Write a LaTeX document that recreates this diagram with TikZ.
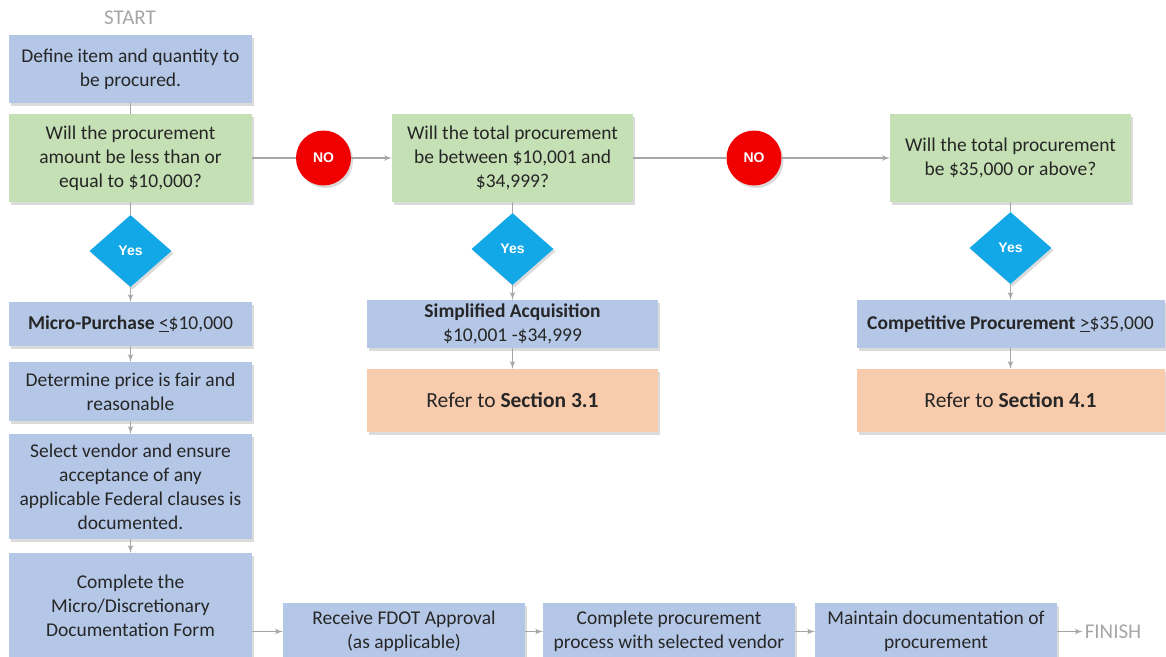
\documentclass[tikz,border=0pt]{standalone}
\usepackage{fontspec}
\setmainfont{Carlito}
\newfontfamily\badgefont{Liberation Sans}
\usetikzlibrary{shapes,arrows,shadows}
\definecolor{boxblue}{RGB}{180,199,231}
\definecolor{boxgreen}{RGB}{197,224,180}
\definecolor{boxorange}{RGB}{248,203,173}
\definecolor{yesblue}{RGB}{18,168,232}
\definecolor{nored}{RGB}{240,0,0}
\definecolor{linegray}{RGB}{166,166,166}
\definecolor{inkgray}{RGB}{38,38,38}
\tikzstyle{line} = [draw=linegray, line width=1.6pt]
\tikzstyle{arrowline} = [line, -latex']
\tikzstyle{softshadow} = [drop shadow={shadow xshift=2pt, shadow yshift=-2.5pt, fill=black!28}]
\tikzstyle{block} = [rectangle, fill=boxblue, text=inkgray, align=center, inner sep=2pt, font=\fontsize{19.5}{24}\selectfont, softshadow]
\tikzstyle{question} = [block, fill=boxgreen]
\tikzstyle{refer} = [block, fill=boxorange, font=\fontsize{21.5}{26}\selectfont]
\tikzstyle{decision} = [diamond, fill=yesblue, text=white, font=\badgefont\bfseries\fontsize{14}{16}\selectfont, minimum width=82pt, minimum height=72pt, inner sep=0pt, softshadow]
\tikzstyle{nobadge} = [circle, fill=nored, text=white, font=\badgefont\bfseries\fontsize{14}{16}\selectfont, minimum size=55pt, inner sep=0pt, softshadow]
\tikzstyle{terminal} = [text=linegray, inner sep=2pt, font=\fontsize{21}{24}\selectfont]

\begin{document}
\begin{tikzpicture}[x=1pt, y=-1pt, node distance=90pt, auto]
    \useasboundingbox (0,0) rectangle (1166,656);
    % left column: micro-purchase path
    \node[terminal] (start) at (130,18) {START};
    \node[block, minimum width=243pt, minimum height=68pt] (define) at (130.5,69) {Define item and quantity to\\be procured.};
    \node[question, below of=define, node distance=89pt, minimum width=243pt, minimum height=88pt] (amount) {Will the procurement\\amount be less than or\\equal to \$10,000?};
    \node[decision, below of=amount, node distance=93pt] (yesmicro) {Yes};
    \node[block, below of=yesmicro, node distance=73pt, minimum width=243pt, minimum height=44pt] (micro) {{\bfseries Micro-Purchase} \underline{<}\$10,000};
    \node[block, below of=micro, node distance=67.5pt, minimum width=243pt, minimum height=59pt] (price) {Determine price is fair and\\reasonable};
    \node[block, below of=price, node distance=95pt, minimum width=243pt, minimum height=105pt] (vendor) {Select vendor and ensure\\acceptance of any\\applicable Federal clauses is\\documented.};
    \node[block, below of=vendor, node distance=119.5pt, minimum width=243pt, minimum height=106pt] (form) {Complete the\\Micro/Discretionary\\Documentation Form};
    % bottom row
    \node[block, minimum width=242pt, minimum height=57pt] (approval) at (404,631.5) {Receive FDOT Approval\\(as applicable)};
    \node[block, right of=approval, node distance=265pt, minimum width=252pt, minimum height=57pt] (complete) {Complete procurement\\process with selected vendor};
    \node[block, right of=complete, node distance=267pt, minimum width=242pt, minimum height=57pt] (maintain) {Maintain documentation of\\procurement};
    \node[terminal, right of=maintain, node distance=177pt] (finish) {FINISH};
    % middle column: simplified acquisition
    \node[nobadge, right of=amount, node distance=193pt] (nosmall) {NO};
    \node[question, right of=amount, node distance=382pt, minimum width=241pt, minimum height=88pt] (between) {Will the total procurement\\be between \$10,001 and\\\$34,999?};
    \node[decision, below of=between, node distance=91pt] (yessimple) {Yes};
    \node[block, below of=yessimple, node distance=75pt, minimum width=291pt, minimum height=48pt] (simple) {{\bfseries Simplified Acquisition}\\\$10,001 -\$34,999};
    \node[refer, below of=simple, node distance=76.5pt, minimum width=291pt, minimum height=63pt] (section3) {Refer to {\bfseries Section 3.1}};
    % right column: competitive procurement
    \node[nobadge, right of=between, node distance=241.5pt] (nomid) {NO};
    \node[question, right of=between, node distance=498pt, minimum width=241pt, minimum height=88pt] (above) {Will the total procurement\\be \$35,000 or above?};
    \node[decision, below of=above, node distance=90pt] (yescomp) {Yes};
    \node[block, below of=yescomp, node distance=76pt, minimum width=308pt, minimum height=48pt] (comp) {{\bfseries Competitive Procurement} \underline{>}\$35,000};
    \node[refer, below of=comp, node distance=76.5pt, minimum width=308pt, minimum height=63pt] (section4) {Refer to {\bfseries Section 4.1}};
    % connectors
    \path[line] (define) -- (amount);
    \path[line] (amount) -- (yesmicro);
    \path[arrowline] (yesmicro) -- (micro);
    \path[arrowline] (micro) -- (price);
    \path[arrowline] (price) -- (vendor);
    \path[arrowline] (vendor) -- (form);
    \path[arrowline] (form.east |- approval) -- (approval);
    \path[arrowline] (approval) -- (complete);
    \path[arrowline] (complete) -- (maintain);
    \path[arrowline] (maintain) -- (finish);
    \path[line] (amount) -- (nosmall);
    \path[arrowline] (nosmall) -- (between);
    \path[line] (between) -- (yessimple);
    \path[arrowline] (yessimple) -- (simple);
    \path[arrowline] (simple) -- (section3);
    \path[line] (between) -- (nomid);
    \path[arrowline] (nomid) -- (above);
    \path[line] (above) -- (yescomp);
    \path[arrowline] (yescomp) -- (comp);
    \path[arrowline] (comp) -- (section4);
\end{tikzpicture}
\end{document}
